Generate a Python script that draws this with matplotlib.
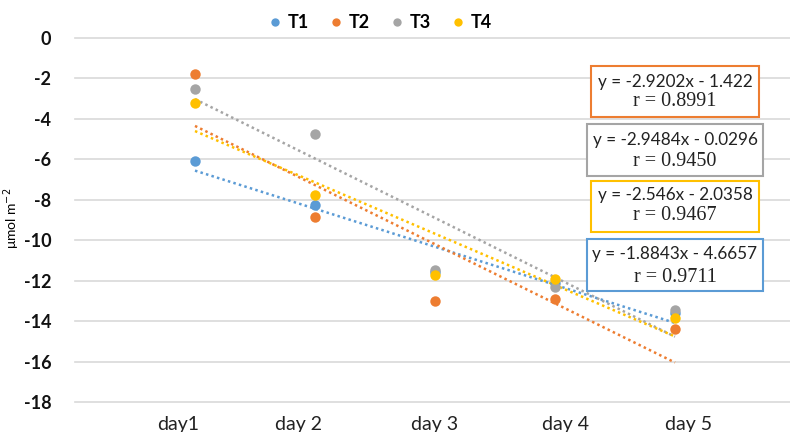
import matplotlib
matplotlib.use("Agg")
import matplotlib.pyplot as plt
import numpy as np
from matplotlib.lines import Line2D
from matplotlib.patches import Rectangle

days = [1, 2, 3, 4, 5]
day_labels = ["day1", "day 2", "day 3", "day 4", "day 5"]
T1 = [-6.1, -8.27, -11.55, -12.1, -13.6]
T2 = [-1.8, -8.87, -13.0, -12.92, -14.4]
T3 = [-2.52, -4.75, -11.49, -12.3, -13.43]
T4 = [-3.2, -7.77, -11.7, -11.9, -13.83]
series_names = ["T1", "T2", "T3", "T4"]
equations = ["y = -1.8843x - 4.6657", "y = -2.9202x - 1.422",
             "y = -2.9484x - 0.0296", "y = -2.546x - 2.0358"]
r_values = ["r = 0.9711", "r = 0.8991", "r = 0.9450", "r = 0.9467"]
yticks = [0, -2, -4, -6, -8, -10, -12, -14, -16, -18]

colors = ["#5B9BD5", "#ED7D31", "#A5A5A5", "#FFC000"]
W, H = 790, 432
fig = plt.figure(figsize=(W / 100, H / 100), dpi=100)
ax = fig.add_axes([75 / W, (H - 402) / H, (W - 75) / W, (402 - 38) / H])
ax.set_xlim(0, 715 / 120)
ax.set_ylim(-18, 0)

for s in ax.spines.values():
    s.set_visible(False)
ax.set_yticks(yticks)
ax.yaxis.grid(True, color="#D9D9D9", linewidth=1.2)
ax.set_axisbelow(True)
for gl in ax.get_ygridlines():
    gl.set_clip_on(False)
ax.tick_params(axis="both", length=0)
ax.tick_params(axis="y", pad=17)
ax.set_yticklabels([str(v) for v in yticks], fontfamily="Lato", fontweight="bold", fontsize=13,
                   color="#111111")

label_offsets = [-0.14, -0.14, 0.0, 0.09, 0.11]
ax.set_xticks([d + o for d, o in zip(days, label_offsets)])
ax.set_xticklabels(day_labels, fontfamily="Lato", fontsize=14, color="#222222")
ax.tick_params(axis="x", pad=10)

data = [T1, T2, T3, T4]
x = np.array(days, dtype=float)
for vals, c in zip(data, colors):
    m, b = np.polyfit(x, vals, 1)
    ax.plot(x[[0, -1]], m * x[[0, -1]] + b, color=c, linestyle=(0, (1, 1.3)), linewidth=1.8, zorder=2)
for vals, c in zip(data, colors):
    ax.plot(days, vals, "o", color=c, markersize=7.5, markeredgewidth=0, zorder=3)

fig.text(12 / W, 1 - 218 / H, "μmol m$^{-2}$", rotation=90, ha="center", va="center",
         fontfamily="Lato", fontsize=10)

handles = [Line2D([], [], marker="o", linestyle="none", color=c, markersize=6, markeredgewidth=0)
           for c in colors]
fig.legend(handles, series_names, loc="center", bbox_to_anchor=(381 / W, 1 - 23 / H), ncol=4,
           frameon=False, handlelength=0.6, handletextpad=0.4, columnspacing=1.2,
           prop={"family": "Lato", "weight": "bold", "size": 13})

# equation boxes: (index, x0, x1, y0, y1, eq_y, r_y) in pixels
boxes = [(1, 591, 759, 66, 117, 82, 101),
         (2, 587, 763, 124, 176, 140, 161),
         (3, 591, 759, 181, 232, 195, 216),
         (0, 587, 763, 239, 291, 254, 278)]
for idx, x0, x1, y0, y1, ey, ry in boxes:
    rect = Rectangle((x0 / W, 1 - y1 / H), (x1 - x0) / W, (y1 - y0) / H, transform=fig.transFigure,
                     facecolor="white", edgecolor=colors[idx], linewidth=1.5, zorder=5)
    fig.patches.append(rect)
    cx = (x0 + x1) / 2 / W
    fig.text(cx, 1 - ey / H, equations[idx], ha="center", va="center", fontfamily="Lato",
             fontsize=12.3, color="#222222", zorder=6)
    fig.text(cx, 1 - ry / H, r_values[idx], ha="center", va="center", fontfamily="Liberation Serif",
             fontsize=14.5, color="#222222", zorder=6)

fig.savefig("out.png", dpi=100)
